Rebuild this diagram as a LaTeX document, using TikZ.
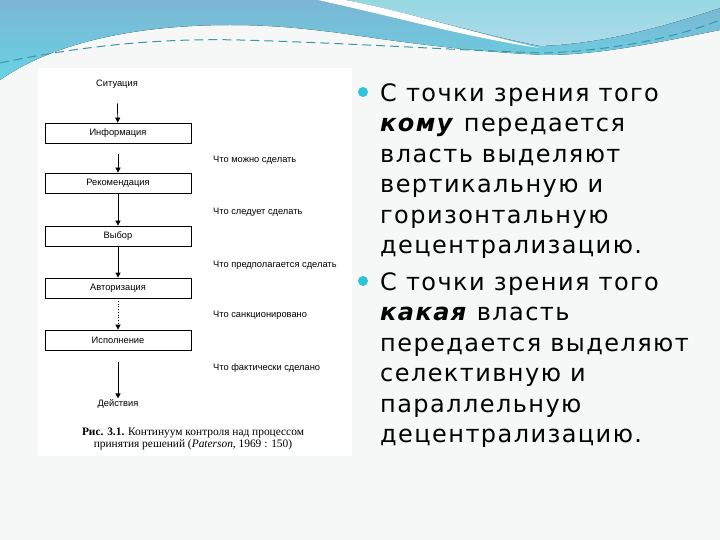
\documentclass[tikz,border=0pt]{standalone}
\usepackage{fontspec}
\usetikzlibrary{arrows.meta}
\newfontfamily\slidefont{DejaVu Sans}[LetterSpace=6]
\newfontfamily\chartfont{Liberation Sans}
\newfontfamily\capfont{Liberation Serif}
\definecolor{wavetop}{HTML}{7CB6D4}
\definecolor{wavebottom}{HTML}{66D3E3}
\definecolor{wavelight}{HTML}{95D8E2}
\definecolor{wavepale}{HTML}{AEDBEA}
\definecolor{wavedash}{HTML}{3A97A6}
\definecolor{slidebg}{HTML}{F6F7F7}
\definecolor{bulletcyan}{HTML}{2CC6D6}
\tikzset{
    stepbox/.style={draw, line width=0.7pt, minimum width=146pt, minimum height=20pt, inner sep=0pt, font=\chartfont\fontsize{9.3}{11}\selectfont},
    endlabel/.style={inner sep=1pt, font=\chartfont\fontsize{9.3}{11}\selectfont},
    sidenote/.style={anchor=west, inner sep=0pt, font=\chartfont\fontsize{9.3}{11}\selectfont},
    flow/.style={line width=0.7pt, -{Triangle[length=5pt, width=5pt]}},
    slidetext/.style={anchor=north west, inner sep=0pt, align=left, text=black, font=\slidefont\fontsize{24}{30.5}\selectfont}
}
\begin{document}
\begin{tikzpicture}[x=1pt, y=-1pt]
    \useasboundingbox (0,0) rectangle (720,540);
    \fill[slidebg] (0,0) rectangle (720,540);
    % Top wave
    \fill[top color=wavetop, bottom color=wavebottom] (0,0) -- (720,0) -- (720,30) .. controls (660,42) and (600,55) .. (545,55) .. controls (480,52) and (420,45) .. (340,33) .. controls (300,28) and (270,25) .. (230,25) .. controls (150,25) and (60,38) .. (0,80) -- cycle;
    \fill[top color=wavelight, bottom color=wavepale] (345,0) -- (720,0) -- (720,8) .. controls (660,28) and (600,44) .. (540,46) .. controls (470,32) and (400,10) .. (345,0) -- cycle;
    \fill[white] (318,0) .. controls (400,18) and (470,38) .. (540,48) .. controls (470,32) and (400,10) .. (345,0) -- cycle;
    \draw[wavedash, line width=1pt, dash pattern=on 9pt off 5pt] (0,63) .. controls (80,46) and (160,38) .. (240,40) .. controls (350,43) and (450,50) .. (545,53) .. controls (620,50) and (680,36) .. (720,20);
    % Scanned figure
    \fill[white] (38,68) rectangle (352,456);
    \node[endlabel] (sit) at (117,84) {Ситуация};
    \node[stepbox] (info) at (118,133) {Информация};
    \node[stepbox] (recom) at (118,183) {Рекомендация};
    \node[stepbox] (choice) at (118,236) {Выбор};
    \node[stepbox] (auth) at (118,288) {Авторизация};
    \node[stepbox] (exec) at (118,340) {Исполнение};
    \node[endlabel] (act) at (118,404) {Действия};
    \draw[flow, shorten <=14pt] (sit) -- (info);
    \draw[flow, shorten <=11pt] (info) -- (recom);
    \draw[flow] (recom) -- (choice);
    \draw[flow] (choice) -- (auth);
    \draw[flow, dotted] (auth) -- (exec);
    \draw[flow, shorten <=12pt] (exec) -- (act);
    \node[sidenote] (can) at (213,160) {Что можно сделать};
    \node[sidenote] (should) at (213,212) {Что следует сделать};
    \node[sidenote] (meant) at (213,265) {Что предполагается сделать};
    \node[sidenote] (sanct) at (213,315) {Что санкционировано};
    \node[sidenote] (done) at (213,368) {Что фактически сделано};
    \node[align=center, inner sep=0pt, font=\capfont\fontsize{11.4}{12.5}\selectfont] (caption) at (193,439) {\textbf{Рис. 3.1.} Континуум контроля над процессом\\принятия решений (\textit{Paterson}, 1969 : 150)};
    % Bullets
    \fill[bulletcyan] (363,92) circle (5);
    \fill[bulletcyan] (363,281) circle (5);
    \node[slidetext] (who) at (380,83) {С точки зрения того\\\textbf{\textit{кому}} передается\\власть выделяют\\вертикальную и\\горизонтальную\\децентрализацию.};
    \node[slidetext] (which) at (380,272) {С точки зрения того\\\textbf{\textit{какая}} власть\\передается выделяют\\селективную и\\параллельную\\децентрализацию.};
\end{tikzpicture}
\end{document}
